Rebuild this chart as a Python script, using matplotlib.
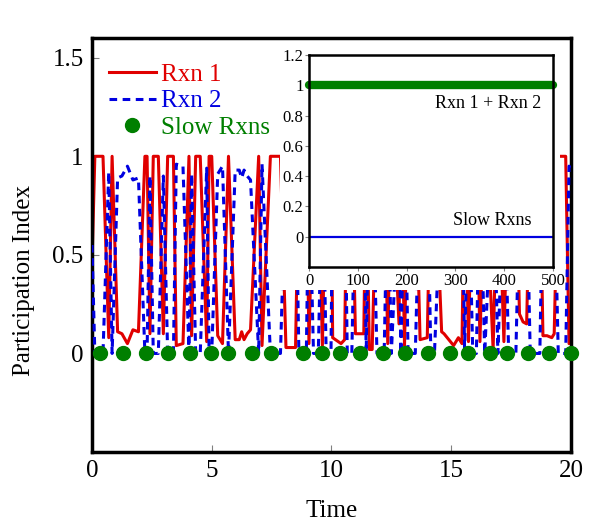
import matplotlib
matplotlib.use("Agg")
import matplotlib.pyplot as plt
from matplotlib.patches import Rectangle

plt.rcParams["font.family"] = ["Liberation Serif", "DejaVu Serif"]

############################################################
# Data
############################################################

time = [0.00, 0.12, 0.46, 0.70, 0.84, 1.07, 1.25, 1.48, 1.71, 1.94,
        2.21, 2.30, 2.42, 2.56, 2.77, 2.98, 3.16, 3.40, 3.52, 3.80,
        4.05, 4.16, 4.33, 4.52, 4.79, 4.89, 5.00, 5.25, 5.45, 5.70,
        5.98, 6.15, 6.25, 6.35, 6.48, 6.62, 6.96, 7.10, 7.45, 7.87,
        8.10, 8.50, 8.64, 8.95, 9.06, 9.25, 9.45, 9.62, 9.78, 9.98,
        10.05, 10.40, 10.55, 10.66, 10.85, 11.00, 11.35, 11.45, 11.58, 11.70,
        11.90, 12.20, 12.35, 12.50, 12.82, 12.90, 13.05, 13.20, 13.50, 13.70,
        14.00, 14.15, 14.30, 14.60, 14.70, 14.90, 15.10, 15.30, 15.45, 15.56,
        15.72, 15.90, 16.05, 16.20, 16.40, 16.75, 16.95, 17.20, 17.40, 17.70,
        17.85, 18.00, 18.15, 18.30, 18.70, 18.83, 19.00, 19.20, 19.30, 19.47,
        19.78, 19.92, 20.00]

rxn1 = [0.45, 1.00, 1.00, 0.08, 1.00, 0.11, 0.10, 0.05, 0.12, 0.11,
        1.00, 1.00, 0.10, 1.00, 1.00, 0.10, 1.00, 1.00, 0.04, 0.05,
        1.00, 0.09, 1.00, 1.00, 0.06, 1.00, 1.00, 0.09, 0.05, 1.00,
        0.07, 0.07, 0.11, 0.07, 0.10, 0.12, 1.00, 0.04, 1.00, 1.00,
        0.03, 0.03, 1.00, 1.00, 0.05, 1.00, 1.00, 0.04, 1.00, 1.00,
        0.08, 0.05, 0.07, 1.00, 1.00, 0.10, 0.10, 1.00, 0.02, 0.02,
        1.00, 1.00, 0.05, 1.00, 0.15, 1.00, 0.04, 1.00, 1.00, 0.07,
        0.08, 1.00, 1.00, 0.11, 0.10, 0.07, 0.04, 0.08, 0.05, 1.00,
        0.06, 1.00, 1.00, 0.06, 1.00, 0.02, 1.00, 0.06, 1.00, 1.00,
        0.20, 0.16, 0.15, 1.00, 1.00, 0.09, 0.09, 0.08, 0.10, 1.00,
        1.00, 0.05, 0.06]

rxn2 = [0.55, 0.00, 0.00, 0.92, 0.00, 0.89, 0.90, 0.95, 0.88, 0.89,
        0.00, 0.00, 0.90, 0.00, 0.00, 0.90, 0.00, 0.00, 0.96, 0.95,
        0.00, 0.91, 0.00, 0.00, 0.94, 0.00, 0.00, 0.91, 0.95, 0.00,
        0.93, 0.93, 0.89, 0.93, 0.90, 0.88, 0.00, 0.96, 0.00, 0.00,
        0.97, 0.97, 0.00, 0.00, 0.95, 0.00, 0.00, 0.96, 0.00, 0.00,
        0.92, 0.95, 0.93, 0.00, 0.00, 0.90, 0.90, 0.00, 0.98, 0.98,
        0.00, 0.00, 0.95, 0.00, 0.85, 0.00, 0.96, 0.00, 0.00, 0.93,
        0.92, 0.00, 0.00, 0.89, 0.90, 0.93, 0.96, 0.92, 0.95, 0.00,
        0.94, 0.00, 0.00, 0.94, 0.00, 0.98, 0.00, 0.94, 0.00, 0.00,
        0.80, 0.84, 0.85, 0.00, 0.00, 0.91, 0.91, 0.92, 0.90, 0.00,
        0.00, 0.95, 0.94]

slow_time = [0.34, 1.29, 2.26, 3.19, 4.11, 4.95, 5.70, 6.67, 7.46, 8.80,
             9.60, 10.36, 11.19, 12.16, 13.08, 14.05, 14.93, 15.72, 16.60,
             17.32, 18.20, 19.08, 20.00]
slow_pi = [0.0] * len(slow_time)

inset_steps = [0, 500]
inset_sum = [1, 1]
inset_slow = [0, 0]

main_xticks = [0, 5, 10, 15, 20]
main_yticks = [0, 0.5, 1, 1.5]
main_yticklabels = ["0", "0.5", "1", "1.5"]
inset_xticks = [0, 100, 200, 300, 400, 500]
inset_yticks = [0, 0.2, 0.4, 0.6, 0.8, 1, 1.2]
inset_yticklabels = ["0", "0.2", "0.4", "0.6", "0.8", "1", "1.2"]

RED = "#e00000"
BLUE = "#0000e0"
GREEN = "#007f00"

############################################################
# Main axes
############################################################

fig = plt.figure(figsize=(6.0, 5.25), dpi=100)
ax = fig.add_axes([0.1533, 0.139, 0.7983, 0.7886])

ax.plot(time, rxn1, color=RED, lw=2.2, label="Rxn 1", zorder=2)
ax.plot(time, rxn2, color=BLUE, lw=2.2, ls=(0, (2.5, 1.8)),
        label="Rxn 2", zorder=3)
ax.plot(slow_time, slow_pi, "o", color=GREEN, ms=10, label="Slow Rxns",
        zorder=4, clip_on=False)

ax.set_xlim(0, 20)
ax.set_ylim(-0.5, 1.6)
ax.set_xticks(main_xticks)
ax.set_yticks(main_yticks)
ax.set_yticklabels(main_yticklabels)
ax.tick_params(direction="in", length=5, width=0.8, color="gray",
               labelsize=18, pad=6)
for s in ax.spines.values():
    s.set_linewidth(2.5)

ax.set_xlabel("Time", fontsize=18)
ax.set_ylabel("Participation Index", fontsize=18)
ax.xaxis.set_label_coords(0.5, -0.115)
ax.yaxis.set_label_coords(-0.119, 0.415)

# white backdrop for the inset (covers its tick labels too)
ax.add_patch(Rectangle((0.392, 0.391), 0.585, 0.599,
                       transform=ax.transAxes, facecolor="white",
                       edgecolor="none", zorder=5))

leg = ax.legend(loc="upper left", bbox_to_anchor=(0.014, 0.962),
                frameon=False, fontsize=18, labelcolor="linecolor",
                handlelength=1.9, handletextpad=0.2, labelspacing=0.15,
                borderaxespad=0)
leg.set_zorder(6)

############################################################
# Inset
############################################################

ins = fig.add_axes([0.515, 0.4914, 0.4067, 0.4038])
ins.plot(inset_steps, inset_sum, color=GREEN, lw=6,
         solid_capstyle="round", clip_on=False)
ins.plot(inset_steps, inset_slow, color=BLUE, lw=1.6)
ins.set_xlim(0, 500)
ins.set_ylim(-0.2, 1.2)
ins.set_xticks(inset_xticks)
ins.set_yticks(inset_yticks)
ins.set_yticklabels(inset_yticklabels)
ins.tick_params(direction="out", length=3, width=0.8, color="gray",
                labelsize=12, pad=1)
for s in ins.spines.values():
    s.set_linewidth(1.8)

ins.text(475, 0.88, "Rxn 1 + Rxn 2", fontsize=13, ha="right", va="center")
ins.text(455, 0.11, "Slow Rxns", fontsize=13, ha="right", va="center")

fig.savefig("out.png", dpi=100)
